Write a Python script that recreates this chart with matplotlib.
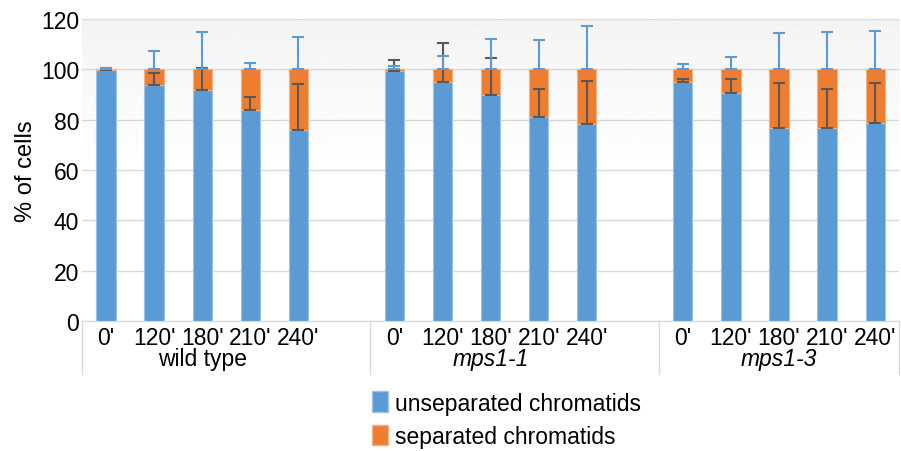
import numpy as np
import matplotlib
matplotlib.use("Agg")
import matplotlib.pyplot as plt
from matplotlib.patches import Patch

plt.rcParams['font.family'] = ['Liberation Sans', 'DejaVu Sans']

groups = ['wild type', 'mps1-1', 'mps1-3']
times = ["0'", "120'", "180'", "210'", "240'"]

# % unseparated chromatids per group
unsep_wt = [99.6, 93.8, 91.8, 83.8, 75.8]
unsep_m11 = [99.4, 94.9, 89.9, 81.1, 78.2]
unsep_m13 = [94.9, 90.5, 76.6, 76.6, 78.5]

# error bars (plus direction), unseparated series
err_unsep_wt = [0.9, 4.8, 8.7, 5.3, 18.2]
err_unsep_m11 = [4.4, 15.4, 14.4, 10.9, 17.1]
err_unsep_m13 = [1.3, 5.7, 18.0, 15.4, 15.9]

# error bars (plus direction), separated series
err_sep_wt = [0.3, 7.2, 14.8, 2.6, 13.0]
err_sep_m11 = [1.1, 5.4, 11.9, 11.6, 17.2]
err_sep_m13 = [1.9, 4.8, 14.2, 14.9, 15.2]

blue = '#5B9BD5'
orange = '#ED7D31'
fs = 16.5

unsep = np.array([unsep_wt, unsep_m11, unsep_m13])
sep = 100 - unsep
e_un = np.array([err_unsep_wt, err_unsep_m11, err_unsep_m13])
e_sep = np.array([err_sep_wt, err_sep_m11, err_sep_m13])

fig = plt.figure(figsize=(9.01, 4.52), dpi=100)
ax = fig.add_axes([0.091, 0.288, 0.907, 0.668])

# faint shading at the top of the plot area
grad = np.linspace(1.0, 0.955, 100).reshape(-1, 1)
ax.imshow(grad, extent=(-0.5, 16.5, 60, 120), origin='lower', cmap='gray',
          vmin=0, vmax=1, aspect='auto', zorder=0, interpolation='bilinear')

ax.set_xlim(-0.5, 16.5)
ax.set_ylim(0, 120)
ax.set_yticks(range(0, 121, 20))
ax.tick_params(axis='y', length=0, labelsize=fs, pad=2)
ax.grid(axis='y', color='#D9D9D9', linewidth=1, zorder=1)
for s in ['left', 'right', 'top']:
    ax.spines[s].set_visible(False)
ax.spines['bottom'].set_color('#D9D9D9')
ax.set_xticks([])
ax.set_ylabel('% of cells', fontsize=fs + 0.5)
ax.yaxis.set_label_coords(-0.055, 0.5)

for g in range(3):
    x = np.arange(5) + 6 * g
    ax.bar(x, unsep[g], 0.4, color=blue, edgecolor='#9DC3E6', linewidth=0.8, zorder=2)
    ax.bar(x, sep[g], 0.4, bottom=unsep[g], color=orange, edgecolor='#F4B183',
           linewidth=0.8, zorder=2)
    ax.errorbar(x, unsep[g], yerr=[np.zeros(5), e_un[g]], fmt='none', ecolor='#595959',
                elinewidth=1.5, capsize=4, capthick=1.5, zorder=3)
    ax.errorbar(x, np.full(5, 100.0), yerr=[np.zeros(5), e_sep[g]], fmt='none',
                ecolor=blue, elinewidth=1.5, capsize=4, capthick=1.5, zorder=4)
    for xi, t in zip(x, times):
        ax.text(xi, -0.055, t, transform=ax.get_xaxis_transform(), ha='center',
                va='center', fontsize=fs)
    gx = 6 * g + 2
    ax.text(gx, -0.125, groups[g], transform=ax.get_xaxis_transform(), ha='center',
            va='center', fontsize=fs, style='normal' if g == 0 else 'italic')

for b in [-0.5, 5.5, 11.5, 16.5]:
    ax.plot([b, b], [0, -0.175], transform=ax.get_xaxis_transform(), color='#D9D9D9',
            linewidth=1, clip_on=False)

handles = [Patch(facecolor=blue, edgecolor='#9DC3E6'), Patch(facecolor=orange, edgecolor='#F4B183')]
fig.legend(handles, ['unseparated chromatids', 'separated chromatids'],
           loc='upper left', bbox_to_anchor=(0.403, 0.152), frameon=False,
           fontsize=fs, handlelength=0.7, handleheight=1.0, handletextpad=0.3,
           labelspacing=0.45, borderaxespad=0)

fig.savefig('out.png', dpi=100)
